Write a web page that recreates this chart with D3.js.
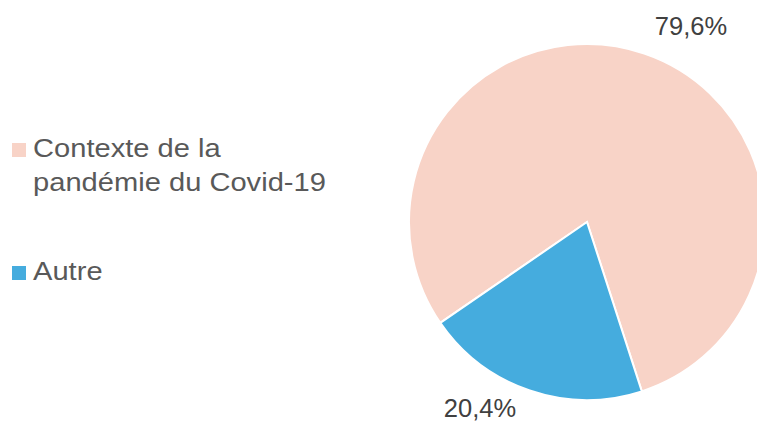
<!DOCTYPE html>
<html>
<head>
<meta charset="utf-8">
<script src="https://cdn.jsdelivr.net/npm/d3@7"></script>
<style>
  body { margin: 0; background: #fff; }
  svg { display: block; }
</style>
</head>
<body>
<svg width="757" height="432"></svg>
<script>
var categories = ["Contexte de la pandémie du Covid-19", "Autre"];
var legendLines = [["Contexte de la", "pandémie du Covid-19"], ["Autre"]];
var values = [79.6, 20.4];
var valueLabels = ["79,6%", "20,4%"];
var colors = ["#F8D3C7", "#45ACDE"];

var svg = d3.select("svg");
var cx = 587, cy = 222, r = 178;

// first slice starts at about 235 deg clockwise from the top (Excel style)
var firstAngle = 235.5 * Math.PI / 180;
var pie = d3.pie().sort(null).value(function (d) { return d; })
  .startAngle(firstAngle).endAngle(firstAngle + 2 * Math.PI);
var arcs = pie(values);
var arc = d3.arc().innerRadius(0).outerRadius(r);

var g = svg.append("g").attr("transform", `translate(${cx},${cy})`);
g.selectAll("path").data(arcs).enter().append("path")
  .attr("d", arc)
  .style("fill", function (d, i) { return colors[i]; })
  .style("stroke", "#fff")
  .style("stroke-width", 2);

// data labels, placed outside the pie
var labelPos = [[691, 35], [480, 417]];
svg.selectAll("text.val").data(arcs).enter().append("text")
  .attr("class", "val")
  .attr("x", function (d, i) { return labelPos[i][0]; })
  .attr("y", function (d, i) { return labelPos[i][1]; })
  .attr("text-anchor", "middle")
  .style("font-family", "'Liberation Sans', Arial, sans-serif")
  .style("font-size", "25.5px")
  .style("fill", "#404040")
  .text(function (d, i) { return valueLabels[i]; });

// legend (text is a bit wider than normal in the original)
var legendY = [143, 266];
var leg = svg.selectAll("g.leg").data(categories).enter().append("g").attr("class", "leg");
leg.append("rect")
  .attr("x", 12)
  .attr("y", function (d, i) { return legendY[i]; })
  .attr("width", 14).attr("height", 14)
  .style("fill", function (d, i) { return colors[i]; });
leg.each(function (d, i) {
  var t = d3.select(this).append("text")
    .attr("transform", "translate(33,0) scale(1.12,1)")
    .style("font-family", "'Liberation Sans', Arial, sans-serif")
    .style("font-size", "26px")
    .style("fill", "#595959");
  legendLines[i].forEach(function (line, j) {
    t.append("tspan").attr("x", 0).attr("y", legendY[i] + 14 + j * 34).text(line);
  });
});
</script>
</body>
</html>
